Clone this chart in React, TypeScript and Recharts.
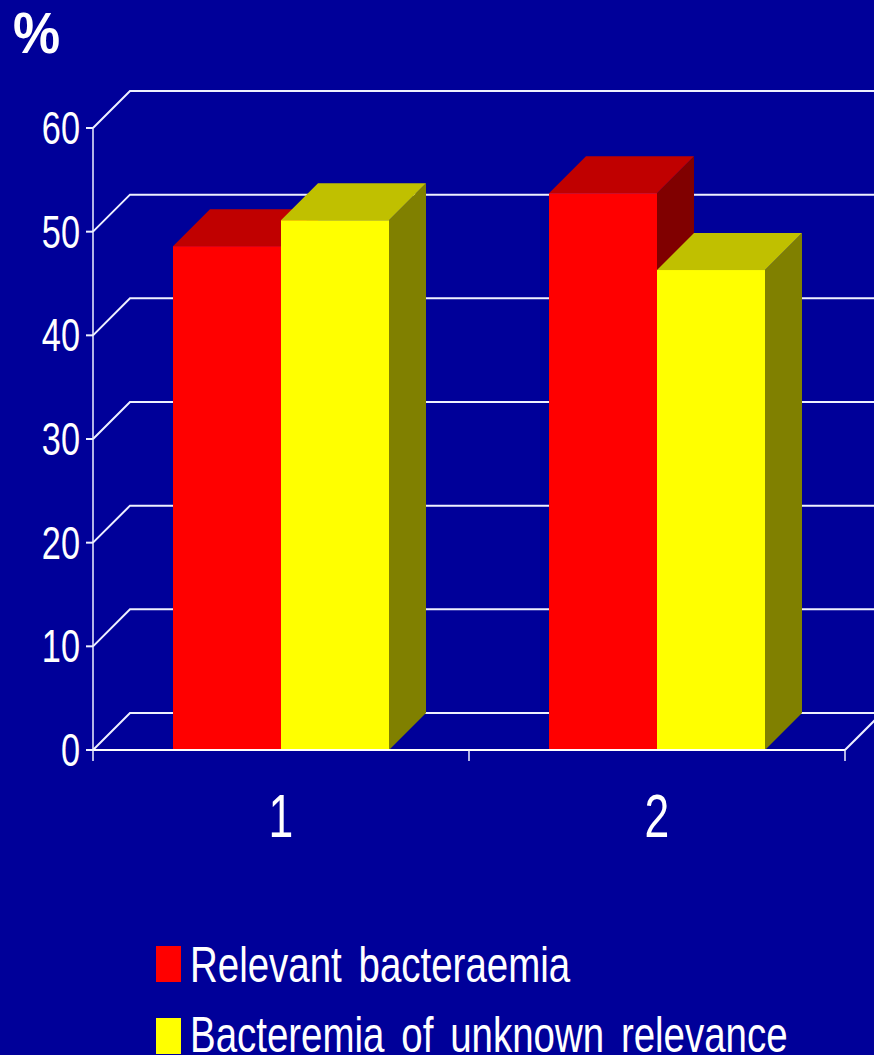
import React from 'react';
import { BarChart, Bar, XAxis, YAxis, CartesianGrid, Legend } from 'recharts';

// Survey groups along the horizontal axis
const categories = ['1', '2'];
// Percentages per series, one value per group
const relevantValues = [48.6, 53.7];
const unknownValues = [51.1, 46.3];
const yTicks = [0, 10, 20, 30, 40, 50, 60];
const seriesNames = { relevant: 'Relevant bacteraemia', unknown: 'Bacteremia of unknown relevance' };

const rows = categories.map((category, i) => ({
  category,
  relevant: relevantValues[i],
  unknown: unknownValues[i],
}));

const BACKGROUND = '#000099';
const GRID = '#eef0ff';
const FONT = '"Liberation Sans", sans-serif';
const DEPTH = 37; // oblique offset of the pseudo-3D box
const CATEGORY_WIDTH = 376;
const NARROW_TICK = 0.73; // horizontal squeeze that gives the condensed numerals
const NARROW_LEGEND = 0.769;

const redFaces = { front: '#ff0000', top: '#c00000', side: '#800000' };
const yellowFaces = { front: '#ffff00', top: '#c0c000', side: '#808000' };

// A bar drawn as an oblique box: side and top faces behind the front rectangle.
const boxBar = (faces: { front: string; top: string; side: string }) => (props: any) => {
  const { x, y, width, height } = props;
  const r = x + width;
  const b = y + height;
  return (
    <g>
      <polygon points={`${r},${y} ${r + DEPTH},${y - DEPTH} ${r + DEPTH},${b - DEPTH} ${r},${b}`} fill={faces.side} />
      <polygon points={`${x},${y} ${x + DEPTH},${y - DEPTH} ${r + DEPTH},${y - DEPTH} ${r},${y}`} fill={faces.top} />
      <rect x={x} y={y} width={width} height={height} fill={faces.front} />
    </g>
  );
};

// Back-wall gridline with the slanted connector to the front axis.
const wallLine = (props: any) => {
  const { x1, x2, y1, index } = props;
  const isFloor = Math.abs(y1 - 750) < 1;
  return (
    <g key={`wall-${index}`} fill="none" stroke={GRID} strokeWidth={2}>
      <polyline points={`${x1},${y1} ${x1 + DEPTH},${y1 - DEPTH} ${x2 + DEPTH},${y1 - DEPTH}`} />
      {isFloor && <line x1={x2} y1={y1} x2={x2 + DEPTH} y2={y1 - DEPTH} />}
    </g>
  );
};

const YTick = (props: any) => {
  const { y, payload } = props;
  return (
    <text
      transform={`translate(80 ${y + 16}) scale(${NARROW_TICK} 1)`}
      textAnchor="end"
      fontFamily={FONT}
      fontSize={47}
      fill="#ffffff"
    >
      {payload.value}
    </text>
  );
};

const XTick = (props: any) => {
  const { x, payload, index } = props;
  return (
    <g>
      <line x1={x - CATEGORY_WIDTH / 2} x2={x - CATEGORY_WIDTH / 2} y1={750} y2={761} stroke={GRID} strokeWidth={1.5} />
      {index === categories.length - 1 && (
        <line x1={x + CATEGORY_WIDTH / 2} x2={x + CATEGORY_WIDTH / 2} y1={750} y2={761} stroke={GRID} strokeWidth={1.5} />
      )}
      <text
        transform={`translate(${x} 837) scale(${NARROW_TICK} 1)`}
        textAnchor="middle"
        fontFamily={FONT}
        fontSize={61}
        fill="#ffffff"
      >
        {payload.value}
      </text>
    </g>
  );
};

const LegendBlock = (props: any) => (
  <svg width={874} height={125} style={{ display: 'block' }}>
    {(props.payload || []).map((entry: any, i: number) => (
      <g key={entry.value}>
        <rect x={156} y={16 + i * 72} width={25} height={36} fill={entry.color} />
        <text
          transform={`translate(190 ${52 + i * 70}) scale(${NARROW_LEGEND} 1)`}
          fontFamily={FONT}
          fontSize={50}
          wordSpacing={8}
          fill="#ffffff"
        >
          {entry.value}
        </text>
      </g>
    ))}
  </svg>
);

export default function App() {
  return (
    <div style={{ position: 'absolute', left: 0, top: 0, width: 874, height: 1055, background: BACKGROUND, overflow: 'hidden' }}>
      <BarChart
        width={874}
        height={1055}
        data={rows}
        margin={{ top: 128, right: 29, bottom: 0, left: 0 }}
        barCategoryGap={80}
        barGap={0}
      >
        <CartesianGrid vertical={false} horizontal={wallLine} />
        <XAxis
          dataKey="category"
          height={305}
          axisLine={{ stroke: '#ffffff', strokeWidth: 2 }}
          tickLine={false}
          tick={<XTick />}
          interval={0}
        />
        <YAxis
          width={93}
          domain={[0, 60]}
          ticks={yTicks}
          interval={0}
          axisLine={{ stroke: GRID, strokeWidth: 1.5 }}
          tickLine={{ stroke: GRID, strokeWidth: 2 }}
          tickSize={7}
          tick={<YTick />}
        />
        <Bar dataKey="relevant" name={seriesNames.relevant} fill={redFaces.front} barSize={108} isAnimationActive={false} shape={boxBar(redFaces)} />
        <Bar dataKey="unknown" name={seriesNames.unknown} fill={yellowFaces.front} barSize={108} isAnimationActive={false} shape={boxBar(yellowFaces)} />
        <Legend
          layout="horizontal"
          align="center"
          verticalAlign="middle"
          itemSorter={null}
          content={<LegendBlock />}
          wrapperStyle={{ position: 'absolute', left: 0, top: 930, width: 874, height: 125 }}
        />
        <text
          transform="translate(13 53) scale(0.93 1)"
          fontFamily={FONT}
          fontWeight={700}
          fontSize={57}
          fill="#ffffff"
        >
          %
        </text>
      </BarChart>
    </div>
  );
}
